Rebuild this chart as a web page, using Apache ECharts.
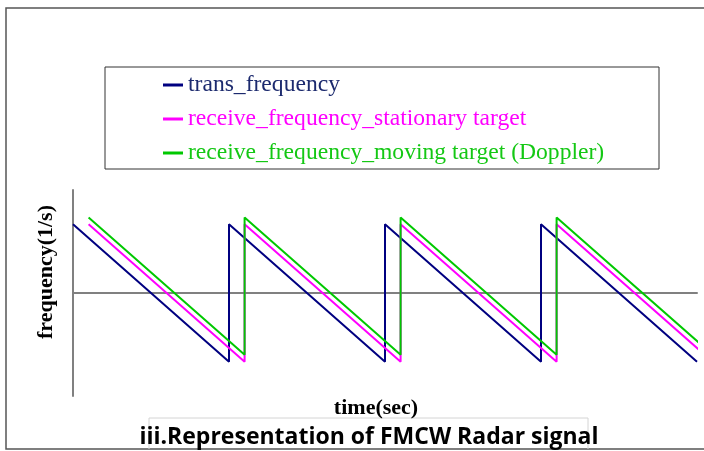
<!DOCTYPE html>
<html>
<head>
<meta charset="utf-8">
<script src="https://cdn.jsdelivr.net/npm/echarts@6/dist/echarts.min.js"></script>
<style>html,body{margin:0;padding:0;background:#fff;}#c{width:704px;height:451px;}</style>
</head>
<body>
<div id="c"></div>
<script>
// Data (time in chirp periods, frequency normalised)
const seriesNames = ['trans_frequency', 'receive_frequency_stationary target', 'receive_frequency_moving target (Doppler)'];
const transTime = [0, 1, 1, 2, 2, 3, 3, 4];
const transFreq = [1, -1, 1, -1, 1, -1, 1, -1];
const recvTime = [0.1, 1.1, 1.1, 2.1, 2.1, 3.1, 3.1, 4.1];
const recvFreq = [1, -1, 1, -1, 1, -1, 1, -1];
const dopplerTime = [0.1, 1.1, 1.1, 2.1, 2.1, 3.1, 3.1, 4.1];
const dopplerFreq = [1.1, -0.9, 1.1, -0.9, 1.1, -0.9, 1.1, -0.9];
const xLabel = 'time(sec)';
const yLabel = 'frequency(1/s)';
const chartTitle = 'iii.Representation of FMCW Radar signal';

const colors = ['#000080', '#ff00ff', '#00c800'];
const zip = (t, f) => t.map((v, i) => [v, f[i]]);

const chart = echarts.init(document.getElementById('c'), null, {renderer: 'canvas'});
const serif = '"Liberation Serif", "Times New Roman", serif';

chart.setOption({
  animation: false,
  backgroundColor: '#ffffff',
  grid: {left: 73, right: 7, top: 190, bottom: 55},
  xAxis: {
    type: 'value', min: 0, max: 4,
    axisLine: {show: true, onZero: true, lineStyle: {color: '#808080', width: 2}},
    axisTick: {show: false}, axisLabel: {show: false}, splitLine: {show: false}
  },
  yAxis: {
    type: 'value', min: -1.5, max: 1.5,
    axisLine: {show: true, onZero: false, lineStyle: {color: '#808080', width: 2}},
    axisTick: {show: false}, axisLabel: {show: false}, splitLine: {show: false}
  },
  legend: {
    orient: 'vertical', left: 163, top: 73, itemGap: 10, padding: 0,
    icon: 'rect', itemWidth: 20, itemHeight: 3,
    textStyle: {fontFamily: serif, fontSize: 23.6, lineHeight: 24},
    data: [
      {name: seriesNames[0], textStyle: {color: '#1c2a6e'}},
      {name: seriesNames[1], textStyle: {color: '#ff00ff'}},
      {name: seriesNames[2], textStyle: {color: '#14c814'}}
    ]
  },
  graphic: [
    {type: 'rect', shape: {x: 6, y: 8, width: 720, height: 441}, style: {fill: 'none', stroke: '#555', lineWidth: 1.5}, silent: true, z: -1},
    {type: 'rect', shape: {x: 105, y: 67, width: 554, height: 102}, style: {fill: 'none', stroke: '#333', lineWidth: 1}, silent: true},
    {type: 'polyline', shape: {points: [[149, 449], [149, 418], [588, 418], [588, 449]]}, style: {fill: 'none', stroke: '#d4d4d4', lineWidth: 1}, silent: true},
    {type: 'text', x: 376, y: 408, style: {text: xLabel, font: 'bold 22px ' + serif, fill: '#000', align: 'center', verticalAlign: 'middle'}, silent: true},
    {type: 'text', x: 46, y: 272, rotation: Math.PI / 2, style: {text: yLabel, font: 'bold 22px ' + serif, fill: '#000', align: 'center', verticalAlign: 'middle'}, silent: true},
    {type: 'text', x: 369, y: 437, style: {text: chartTitle, font: 'bold 23px "Open Sans", sans-serif', fill: '#000', align: 'center', verticalAlign: 'middle'}, silent: true}
  ],
  series: [
    {name: seriesNames[0], type: 'line', data: zip(transTime, transFreq), symbol: 'none', clip: false, lineStyle: {color: colors[0], width: 2}, itemStyle: {color: colors[0]}},
    {name: seriesNames[1], type: 'line', data: zip(recvTime, recvFreq), symbol: 'none', clip: false, lineStyle: {color: colors[1], width: 2}, itemStyle: {color: colors[1]}},
    {name: seriesNames[2], type: 'line', data: zip(dopplerTime, dopplerFreq), symbol: 'none', clip: false, lineStyle: {color: colors[2], width: 2}, itemStyle: {color: colors[2]}}
  ]
});
</script>
</body>
</html>
